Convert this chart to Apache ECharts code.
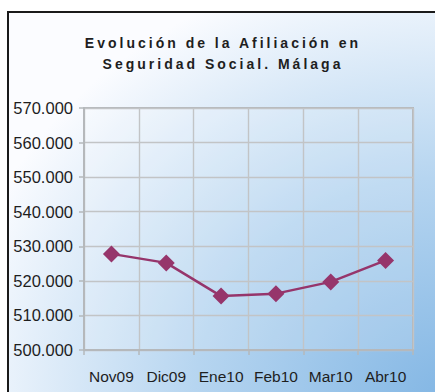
<!DOCTYPE html>
<html>
<head>
<meta charset="utf-8">
<script src="https://cdn.jsdelivr.net/npm/echarts@6/dist/echarts.min.js"></script>
<style>
  html, body { margin: 0; padding: 0; background: #ffffff; }
  #chart { width: 435px; height: 392px; }
</style>
</head>
<body>
<div id="chart"></div>
<script>
// Monthly affiliates to Social Security in Málaga
const months = ['Nov09', 'Dic09', 'Ene10', 'Feb10', 'Mar10', 'Abr10'];
const affiliates = [527800, 525200, 515600, 516300, 519700, 525900];
const titleLines = ['Evolución de la Afiliación en', 'Seguridad Social. Málaga'];
const yMin = 500000;
const yMax = 570000;
const yStep = 10000;

const fmt = v => (v / 1000).toFixed(3);

const chart = echarts.init(document.getElementById('chart'), null, { renderer: 'svg' });

chart.setOption({
  animation: false,
  graphic: [
    {
      type: 'rect',
      z: -10,
      shape: { x: 8, y: 12, width: 440, height: 390 },
      style: {
        fill: new echarts.graphic.RadialGradient(1, 1, 1.15, [
          { offset: 0, color: '#82b6e4' },
          { offset: 0.5, color: '#b6d5f0' },
          { offset: 1, color: '#fbfcff' }
        ]),
        stroke: '#1a1a1a',
        lineWidth: 2
      }
    },
    {
      type: 'text',
      x: 223, y: 43,
      style: {
        text: titleLines[0],
        fill: '#1e1e1e',
        font: 'bold 14px "Liberation Sans", Arial, sans-serif',
        textAlign: 'center',
        textVerticalAlign: 'middle'
      }
    },
    {
      type: 'text',
      x: 223, y: 64,
      style: {
        text: titleLines[1],
        fill: '#1e1e1e',
        font: 'bold 14px "Liberation Sans", Arial, sans-serif',
        textAlign: 'center',
        textVerticalAlign: 'middle'
      }
    }
  ],
  grid: {
    left: 84, right: 22, top: 108, bottom: 42,
    show: true,
    borderColor: '#b5b8bb',
    borderWidth: 2,
    backgroundColor: 'rgba(255,255,255,0.15)'
  },
  xAxis: {
    type: 'category',
    data: months,
    boundaryGap: true,
    axisLine: { lineStyle: { color: '#b5b8bb', width: 2 } },
    axisTick: { show: true, interval: 0, length: 5, lineStyle: { color: '#b5b8bb', width: 1.5 } },
    splitLine: { show: true, interval: 0, lineStyle: { color: '#c2c4c6', width: 1.4 } },
    axisLabel: {
      interval: 0,
      hideOverlap: false,
      color: '#1e1e1e',
      fontSize: 15.5,
      fontFamily: '"Liberation Sans", Arial, sans-serif',
      margin: 18
    }
  },
  yAxis: {
    type: 'value',
    min: yMin,
    max: yMax,
    interval: yStep,
    axisLine: { show: true, lineStyle: { color: '#b5b8bb', width: 2 } },
    axisTick: { show: true, length: 5, lineStyle: { color: '#b5b8bb', width: 1.5 } },
    splitLine: { show: true, lineStyle: { color: '#c2c4c6', width: 1.4 } },
    axisLabel: {
      color: '#1e1e1e',
      fontSize: 16.5,
      fontFamily: '"Liberation Sans", Arial, sans-serif',
      margin: 11,
      formatter: fmt
    }
  },
  series: [{
    type: 'line',
    data: affiliates,
    symbol: 'diamond',
    symbolSize: 17,
    itemStyle: { color: '#96356b' },
    lineStyle: { color: '#96356b', width: 2.5 }
  }]
});

// widen the tracking of the two title lines
document.querySelectorAll('#chart svg text').forEach(t => {
  if (titleLines.indexOf(t.textContent) >= 0) {
    t.setAttribute('letter-spacing', '3');
  }
});
</script>
</body>
</html>
